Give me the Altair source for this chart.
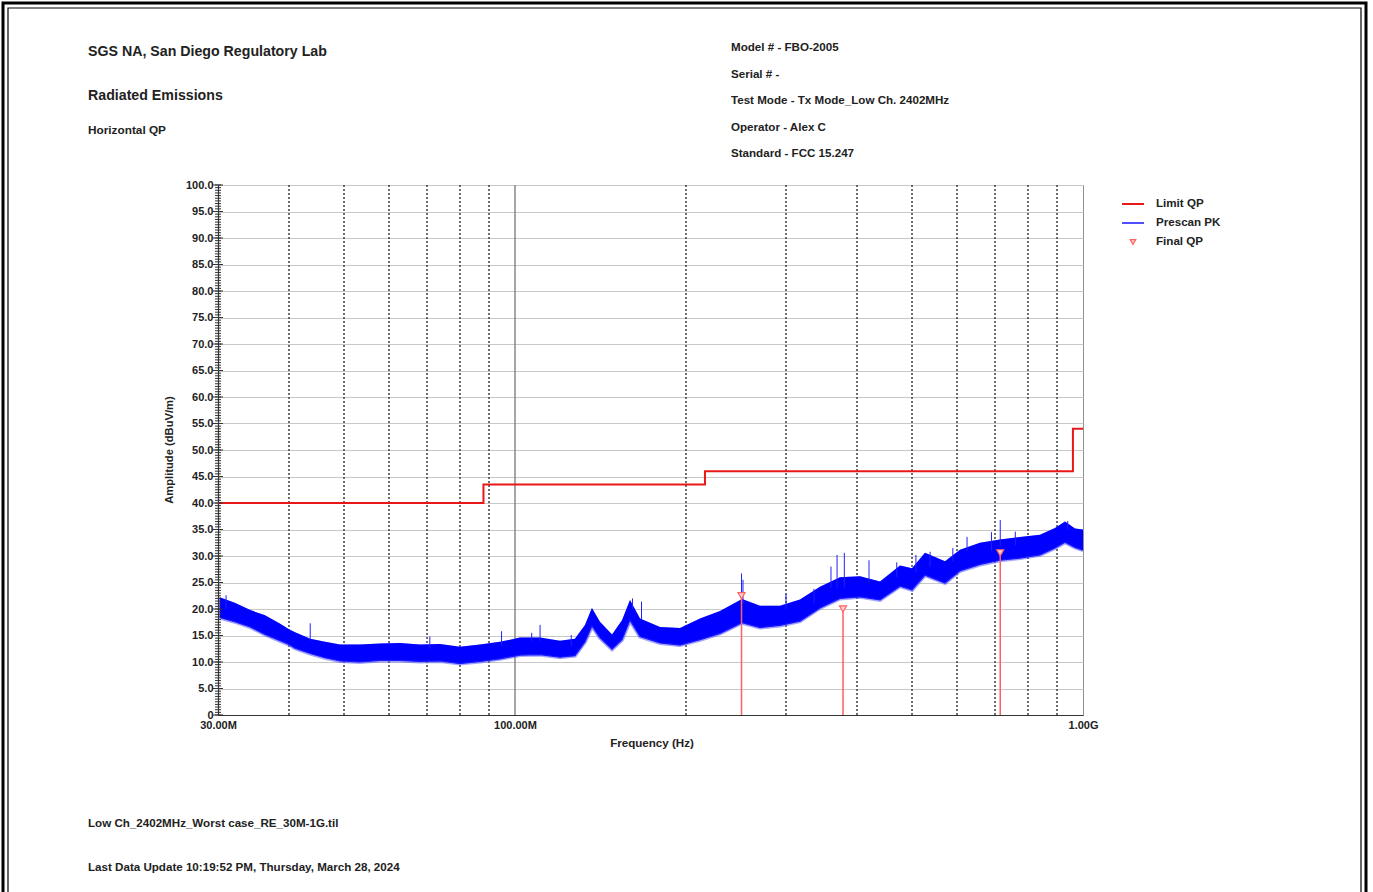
import altair as alt
import pandas as pd

# ---- Limit QP (MHz, dBuV/m), drawn as a stepped line ----
limit_freq = [30, 88, 88, 216, 216, 960, 960, 1000]
limit_level = [40, 40, 43.5, 43.5, 46, 46, 54, 54]

# ---- Prescan PK envelope (MHz, lower / upper dBuV/m) ----
pk_freq = [30.2, 32.1, 34.2, 36.3, 38.6, 40.0, 41.0, 43.6, 46.3, 49.2, 53.3, 57.9,
           62.7, 68.0, 73.8, 80.0, 86.8, 94.1, 102.0, 110.6, 120.0, 127.5, 132.8,
           136.6, 141.1, 148.2, 154.3, 159.4, 166.0, 180.0, 195.2, 211.7, 229.6,
           251.0, 270.0, 292.8, 317.5, 344.3, 373.4, 405.0, 439.2, 476.3, 500.0,
           527.0, 571.6, 607.3, 658.6, 714.3, 774.6, 840.0, 892.7, 929.6, 968.0,
           1000]
pk_low = [18.4, 17.6, 16.6, 15.2, 14.0, 13.3, 12.6, 11.6, 10.8, 10.2, 10.0, 10.3,
          10.3, 10.1, 10.2, 9.7, 10.1, 10.6, 11.3, 11.4, 10.9, 11.2, 13.8,
          16.8, 14.6, 12.4, 14.2, 17.9, 14.8, 13.6, 13.2, 14.2, 15.4,
          17.4, 16.5, 16.9, 17.7, 20.2, 22.0, 22.3, 21.7, 24.3, 23.6,
          26.4, 24.9, 27.2, 28.4, 29.2, 29.6, 30.2, 31.5, 32.6, 31.6,
          31.1]
pk_high = [22.2, 21.2, 19.8, 18.8, 17.2, 16.2, 15.6, 14.4, 13.8, 13.3, 13.3, 13.5,
           13.6, 13.3, 13.4, 12.9, 13.3, 13.8, 14.6, 14.6, 14.0, 14.4, 17.0,
           20.2, 17.6, 15.2, 17.9, 21.7, 18.2, 16.6, 16.4, 18.2, 19.6,
           21.9, 20.6, 20.6, 21.8, 24.2, 26.0, 26.2, 25.2, 28.2, 27.7,
           30.6, 29.0, 31.2, 32.5, 33.1, 33.6, 34.0, 35.3, 36.5, 35.2,
           35.0]

# ---- Narrow spikes above the prescan band (MHz, base, top) ----
spike_freq = [31, 43.6, 70.8, 94.7, 107, 110.7, 125.6, 161, 167, 250.5, 252, 300,
              336, 360, 369, 380, 420, 470, 508, 538, 590, 625, 690, 715, 760, 940]
spike_base = [20.0, 14.0, 12.5, 13.0, 14.0, 14.0, 13.0, 20.0, 18.0, 21.0, 21.0, 20.0,
              21.0, 24.0, 24.0, 24.0, 25.0, 26.0, 27.0, 28.0, 29.0, 31.0, 31.0, 32.0,
              32.0, 35.0]
spike_top = [22.6, 17.3, 14.8, 15.8, 15.5, 17.0, 15.1, 22.0, 21.4, 26.7, 25.5, 22.8,
             23.8, 28.0, 30.2, 30.6, 29.2, 28.8, 30.2, 30.8, 31.5, 33.6, 34.5, 36.8,
             34.6, 36.6]

# ---- Final QP measurements ----
qp_freq = [250.5, 378, 715]
qp_level = [22.5, 20.0, 30.6]

# ---- Axis structure ----
dotted_grid = [40, 50, 60, 70, 80, 90, 200, 300, 400, 500, 600, 700, 800, 900]
solid_grid = [100]
y_major = [i * 5 for i in range(21)]
y_minor = [i * 0.5 for i in range(201)]
x_labels = [30, 100, 1000]

FONT = "Liberation Sans"
TXT = "#222222"
RED = "#e81818"
BLUE = "#0000ff"
QP_RED = "#ff6060"
SMALL = 11.6
BIG = 14.2

W, H = 865, 530

x_scale = alt.Scale(type="log", domain=[30, 1000], nice=False)
y_scale = alt.Scale(domain=[0, 100], nice=False, zero=False)

x_axis = alt.Axis(
    values=x_labels, title=None, grid=False, ticks=False,
    labelExpr="datum.value == 30 ? '30.00M' : datum.value == 100 ? '100.00M' : '1.00G'",
    labelFont=FONT, labelFontSize=11, labelFontWeight="bold", labelColor=TXT,
    labelPadding=4, labelFlush=False, labelOverlap=False,
    domainColor="#333333", domainWidth=1.2,
)
y_axis = alt.Axis(
    values=y_major, title=None, ticks=False, grid=True,
    gridColor="#c8c8c8", gridWidth=1,
    labelExpr="datum.value == 0 ? '0' : format(datum.value, '.1f')",
    labelFont=FONT, labelFontSize=11, labelFontWeight="bold", labelColor=TXT,
    labelPadding=5, labelOverlap=False, labelFlush=False,
    domainColor="#333333", domainWidth=1.2,
)


def X(field):
    return alt.X(field, type="quantitative", scale=x_scale, axis=x_axis)


def Y(field):
    return alt.Y(field, type="quantitative", scale=y_scale, axis=y_axis)


limit_df = pd.DataFrame({"f": limit_freq, "v": limit_level, "i": range(len(limit_freq))})
pk_df = pd.DataFrame({"f": pk_freq, "v": pk_low, "hi": pk_high})
spike_df = pd.DataFrame({"f": spike_freq, "v": spike_base, "hi": spike_top})
qp_df = pd.DataFrame({"f": qp_freq, "v": qp_level})
dot_df = pd.DataFrame({"f": dotted_grid})
sol_df = pd.DataFrame({"f": solid_grid})
minor_df = pd.DataFrame({"v": y_minor})
major_df = pd.DataFrame({"v": y_major})

# Vertical grid lines
grid_dotted = alt.Chart(dot_df).mark_rule(
    color="#4a4a4a", strokeWidth=1.6, strokeDash=[2, 2]
).encode(x=X("f"))
grid_solid = alt.Chart(sol_df).mark_rule(color="#808080", strokeWidth=1.4).encode(x=X("f"))

# Ladder-style ticks on the amplitude axis
minor_ticks = alt.Chart(minor_df).mark_rule(color="#333333", strokeWidth=1).encode(
    y=Y("v"), x=alt.value(-3), x2=alt.value(3)
)
major_ticks = alt.Chart(major_df).mark_rule(color="#333333", strokeWidth=1).encode(
    y=Y("v"), x=alt.value(-5), x2=alt.value(5)
)

# Prescan band: a soft fringe under a solid body, plus narrow spikes
pk_fringe = alt.Chart(pk_df).mark_area(
    color="#5a5aff", opacity=0.55,
    line={"color": "#5a5aff", "strokeWidth": 4, "strokeOpacity": 0.55},
).encode(x=X("f"), y=Y("v"), y2="hi")
pk_band = alt.Chart(pk_df).mark_area(
    color=BLUE, opacity=1, line={"color": "#1a1aff", "strokeWidth": 1.2}
).encode(x=X("f"), y=Y("v"), y2="hi")
pk_spikes = alt.Chart(spike_df).mark_rule(color="#2020ff", strokeWidth=1).encode(
    x=X("f"), y=Y("v"), y2="hi"
)

# Limit line
limit_line = alt.Chart(limit_df).mark_line(color=RED, strokeWidth=2).encode(
    x=X("f"), y=Y("v"), order="i"
)

# Final QP markers with drop lines
qp_drop = alt.Chart(qp_df).mark_rule(color=QP_RED, strokeWidth=1.5).encode(
    x=X("f"), y=Y("v"), y2=alt.value(H)
)
qp_pts = alt.Chart(qp_df).mark_point(
    shape="triangle-down", size=50, filled=True, fill="#ffd0d0", stroke=QP_RED, strokeWidth=1.2,
    opacity=1,
).encode(x=X("f"), y=Y("v"))

one = alt.Data(values=[{}])


def label(text, x, y, size=SMALL, align="left", angle=0):
    return alt.Chart(one).mark_text(
        font=FONT, fontSize=size, fontWeight="bold", color=TXT,
        align=align, baseline="middle", angle=angle,
    ).encode(x=alt.value(x), y=alt.value(y), text=alt.value(text))


def legend_line(color, y):
    return alt.Chart(one).mark_rule(color=color, strokeWidth=2).encode(
        x=alt.value(904), x2=alt.value(926), y=alt.value(y)
    )


texts = [
    label("SGS NA, San Diego Regulatory Lab", -130, -133, BIG),
    label("Radiated Emissions", -130, -89, BIG),
    label("Horizontal QP", -130, -55, 11.8),
    label("Model # - FBO-2005", 513, -137),
    label("Serial # -", 513, -110),
    label("Test Mode - Tx Mode_Low Ch. 2402MHz", 513, -84),
    label("Operator - Alex C", 513, -57),
    label("Standard - FCC 15.247", 513, -31),
    label("Limit QP", 938, 19),
    label("Prescan PK", 938, 38),
    label("Final QP", 938, 57),
    label("Frequency (Hz)", 434, 559, align="center"),
    label("Amplitude (dBuV/m)", -48, 265, size=11.2, align="center", angle=270),
    label("Low Ch_2402MHz_Worst case_RE_30M-1G.til", -130, 639),
    label("Last Data Update 10:19:52 PM, Thursday, March 28, 2024", -130, 683),
]

legend = [
    legend_line(RED, 19),
    legend_line("#5050ff", 38),
    alt.Chart(one).mark_point(
        shape="triangle-down", size=30, filled=True, fill="#ffd0d0", stroke=QP_RED, strokeWidth=1.2,
        opacity=1,
    ).encode(x=alt.value(915), y=alt.value(57)),
]

# Page frame (double border)
frame_outer = alt.Chart(one).mark_rect(fill=None, stroke="#000000", strokeWidth=3).encode(
    x=alt.value(-215), x2=alt.value(1148), y=alt.value(-182), y2=alt.value(720)
)
frame_inner = alt.Chart(one).mark_rect(fill=None, stroke="#000000", strokeWidth=1.2).encode(
    x=alt.value(-210), x2=alt.value(1143), y=alt.value(-177), y2=alt.value(720)
)

chart = alt.layer(
    grid_dotted, grid_solid, pk_fringe, pk_band, pk_spikes, limit_line, qp_drop, qp_pts,
    minor_ticks, major_ticks, *legend, *texts, frame_outer, frame_inner,
).properties(
    width=W, height=H,
    autosize=alt.AutoSizeParams(type="none"),
    padding={"left": 218, "top": 185, "right": 290, "bottom": 177},
    background="white",
).configure_view(stroke="#909090", strokeWidth=1)

chart.save("out.html", embed_options={"renderer": "svg", "actions": False})
